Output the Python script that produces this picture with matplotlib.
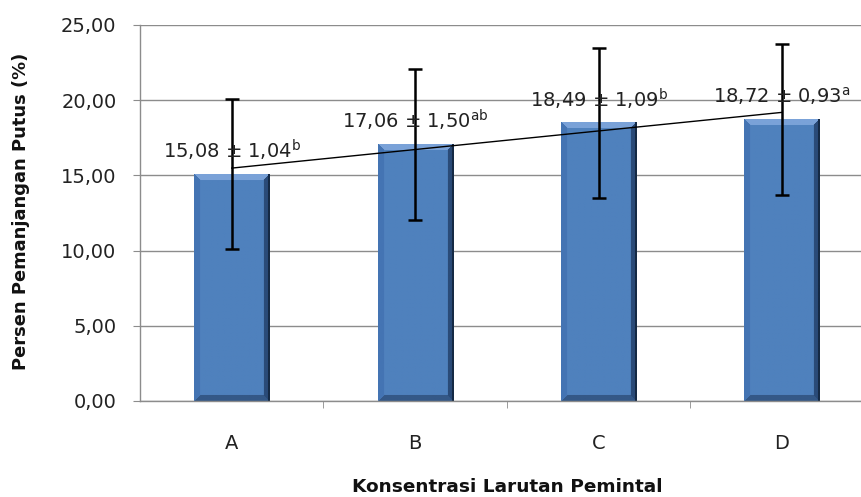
import numpy as np
import matplotlib
matplotlib.use("Agg")
import matplotlib.pyplot as plt
from matplotlib.ticker import FuncFormatter, FixedLocator
from matplotlib.colors import to_rgb

plt.rcParams["font.family"] = ["DejaVu Sans"]
plt.rcParams["mathtext.fontset"] = "dejavusans"

# data
categories = ["A", "B", "C", "D"]
means = [15.08, 17.06, 18.49, 18.72]
errbar = [5.0, 5.0, 5.0, 5.0]
sd = ["1,04", "1,50", "1,09", "0,93"]
letters = ["b", "ab", "b", "a"]
yticks = [0, 5, 10, 15, 20, 25]

fig = plt.figure(figsize=(8.62, 4.97), dpi=100)
ax = fig.add_axes([0.1625, 0.1932, 0.851, 0.7565])

x = np.arange(len(categories))
bw = 0.41
bars = ax.bar(x, means, width=bw, color="#4f81bd", zorder=2)

# bevel shading on each bar
base = np.array(to_rgb("#4f81bd"))
top_c = np.array(to_rgb("#7aa2d8"))
left_c = np.array(to_rgb("#4474b3"))
right_c = np.array(to_rgb("#2a4b78"))
bot_c = np.array(to_rgb("#345887"))
for b, h in zip(bars, means):
    nx = 75
    ny = max(int(h * 15.04), 10)
    jj, ii = np.meshgrid(np.arange(nx), np.arange(ny))
    dl = jj
    dr = nx - 1 - jj
    dt = ii
    db = ny - 1 - ii
    img = np.tile(base, (ny, nx, 1))
    bev = 6
    dmin = np.minimum(np.minimum(dl, dr), np.minimum(dt, db))
    m = dmin < bev
    which = np.argmin(np.stack([dl, dr, dt, db]), axis=0)
    for k, c in enumerate([left_c, right_c, top_c, bot_c]):
        sel = m & (which == k)
        img[sel] = c
    img[:, -2:] = np.array(to_rgb("#152a45"))
    x0 = b.get_x()
    ax.imshow(img, extent=[x0, x0 + bw, 0, h], aspect="auto",
              origin="upper", zorder=2, interpolation="bilinear")

ax.errorbar(x, means, yerr=errbar, fmt="none", ecolor="black",
            elinewidth=1.8, capsize=5, capthick=1.8, zorder=4)

# linear trend line
coef = np.polyfit(x, means, 1)
ax.plot([x[0], x[-1]], np.polyval(coef, [x[0], x[-1]]), color="black",
        lw=1.0, zorder=3)

for xi, m, s, l in zip(x, means, sd, letters):
    txt = "{} ± {}$^{{\\mathrm{{{}}}}}$".format(f"{m:.2f}".replace(".", ","), s, l)
    ax.annotate(txt, (xi, m), xytext=(0, 17), textcoords="offset points",
                ha="center", va="center", fontsize=14, color="#222222", zorder=5)

ax.set_xlim(-0.5, 3.5)
ax.set_ylim(0, 25)
ax.set_yticks(yticks)
ax.yaxis.set_major_formatter(FuncFormatter(lambda v, p: f"{v:.2f}".replace(".", ",")))
ax.set_xticks(x)
ax.set_xticklabels(categories)
ax.xaxis.set_minor_locator(FixedLocator([0.5, 1.5, 2.5]))
ax.tick_params(axis="x", which="major", length=0, pad=24, labelsize=14, labelcolor="#222222")
ax.tick_params(axis="x", which="minor", length=5, color="#8c8c8c", direction="out")
ax.tick_params(axis="y", length=5, color="#8c8c8c", pad=12, labelsize=14, labelcolor="#222222")

ax.grid(axis="y", color="#8c8c8c", lw=1.0, zorder=0)
ax.set_axisbelow(True)
for s in ["top", "right"]:
    ax.spines[s].set_visible(False)
for s in ["left", "bottom"]:
    ax.spines[s].set_color("#8c8c8c")
    ax.spines[s].set_linewidth(1.0)

fig.text(0.588, 0.02, "Konsentrasi Larutan Pemintal", ha="center", va="center",
         fontsize=13.3, fontweight="bold", color="#111111")
fig.text(0.024, 0.574, "Persen Pemanjangan Putus (%)", ha="center", va="center",
         rotation=90, fontsize=12.9, fontweight="bold", color="#111111")

fig.savefig("out.png", dpi=100)
